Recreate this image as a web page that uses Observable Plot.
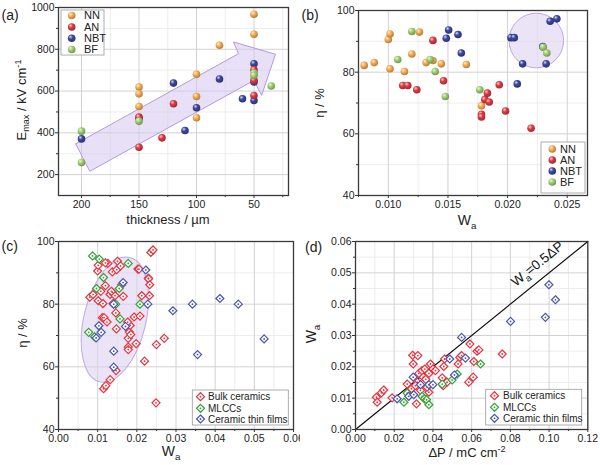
<!DOCTYPE html>
<html><head><meta charset="utf-8">
<script src="https://cdn.jsdelivr.net/npm/d3@7"></script>
<script src="https://cdn.jsdelivr.net/npm/@observablehq/plot@0.6"></script>
<style>
html,body{margin:0;padding:0;background:#fff;}
#root{position:relative;width:600px;height:465px;overflow:hidden;background:#fff;font-family:"Liberation Sans",Arial,sans-serif;}
#root svg.panel{position:absolute;}
</style></head>
<body><div id="root"></div>
<script>
// ---------------- DATA ----------------
// (a) thickness (µm) vs Emax (kV/cm)
const a_NN  = [[150,619],[150,587],[150,526],[100,680],[100,574],[100,472],[80,819],[50,968],[50,872]];
const a_AN  = [[150,475],[150,331],[130,376],[120,539],[50,702],[50,651],[50,579]];
const a_NBT = [[200,371],[150,470],[120,638],[110,411],[100,520],[80,658],[60,563],[50,731],[50,643],[50,555]];
const a_BF  = [[200,408],[200,258],[150,456],[50,686],[50,675],[35,624]];
const a_arrow = [[205,347],[63.5,779],[67.8,835],[31.3,776],[43.4,579],[50,651],[192.8,216],[205,347]];
const a_xTicks = [200,150,100,50], a_xMinor = [175,125,75,25];
const a_yTicks = [200,400,600,800,1000], a_yMinor = [300,500,700,900];

// (b) Wa vs eta (%)
const b_NN  = [[0.00798,82.2],[0.00882,83.1],[0.0100,90.6],[0.01014,92.4],[0.01014,81.1],[0.01135,80.2],[0.01197,85.9],[0.01261,93.0],[0.01317,83.1],[0.01374,83.8],[0.01444,82.7],[0.01654,82.5],[0.01781,69.1]];
const b_AN  = [[0.01121,75.7],[0.01163,75.7],[0.01239,74.3],[0.01374,90.3],[0.01463,77.2],[0.01781,66.3],[0.01781,65.5],[0.01809,71.1],[0.01831,73.2],[0.01846,70.3],[0.0193,75.9],[0.01983,67.4],[0.02197,61.8]];
const b_NBT = [[0.01486,91.0],[0.01506,93.7],[0.01584,92.2],[0.01612,86.2],[0.02028,91.2],[0.02056,91.2],[0.02126,82.7],[0.02081,76.2],[0.02323,82.7],[0.02357,96.5],[0.02413,97.3],[0.02295,88.3]];
const b_BF  = [[0.01197,93.2],[0.01079,84.1],[0.01351,84.1],[0.01393,80.2],[0.01478,72.1],[0.01767,74.3],[0.02299,88.1],[0.02329,86.2]];
const b_circle = [0.02245, 90.1];
const b_xTicks = [0.010,0.015,0.020,0.025], b_xMinor = [0.0075,0.0125,0.0175,0.0225];
const b_yTicks = [40,60,80,100], b_yMinor = [50,70,90];

// (c) Wa vs eta: bulk ceramics = all of (b) plus extra points
const c_bulkExtra = [[0.0115,53.0],[0.0121,54.0],[0.0132,55.9],[0.0147,58.8],[0.0249,48.5],[0.0270,69.1],[0.0250,67.1]];
const c_MLCC = [[0.0087,95.4],[0.0104,94.4],[0.0115,88.5],[0.0097,85.0],[0.0155,85.0],[0.0146,80.0],[0.0178,93.0],[0.0208,80.0],[0.0157,75.3],[0.0077,71.0],[0.0092,69.6]];
const c_film = [[0.0096,69.2],[0.0103,73.1],[0.0109,71.0],[0.0141,80.0],[0.0141,65.0],[0.0141,59.9],[0.0165,86.9],[0.0171,72.9],[0.0223,90.9],[0.0228,80.0],[0.0292,77.9],[0.0342,80.0],[0.0355,63.9],[0.0412,81.8],[0.0459,80.0],[0.0525,68.9]];
const c_ellipse = [0.01452, 74.9];
const c_xTicks = [0,0.01,0.02,0.03,0.04,0.05,0.06], c_xMinor = [0.005,0.015,0.025,0.035,0.045,0.055];
const c_yTicks = [40,60,80,100], c_yMinor = [50,70,90];

// (d) dP (mC/cm2) vs Wa
const d_bulk = [[0.0108,0.0103],[0.0112,0.0087],[0.0134,0.0117],[0.0146,0.0126],[0.0189,0.0101],[0.0267,0.0145],[0.0289,0.0130],[0.0295,0.0237],[0.0322,0.0236],[0.0298,0.0209],[0.0315,0.0082],[0.0319,0.0151],[0.0310,0.0140],[0.0327,0.0179],[0.0344,0.0188],[0.0358,0.0193],[0.0350,0.0167],[0.0336,0.0125],[0.0363,0.0160],[0.0379,0.0179],[0.0387,0.0209],[0.0400,0.0193],[0.0413,0.0188],[0.0379,0.0119],[0.0370,0.0135],[0.0448,0.0165],[0.0453,0.0140],[0.0456,0.0201],[0.0460,0.0225],[0.0473,0.0151],[0.0530,0.0209],[0.0539,0.0230],[0.0548,0.0236],[0.0591,0.0273],[0.0585,0.0151],[0.0608,0.0167],[0.0611,0.0217],[0.0628,0.0250],[0.0637,0.0254],[0.0758,0.0241]];
const d_MLCC = [[0.0250,0.0087],[0.0267,0.0116],[0.0344,0.0106],[0.0356,0.0098],[0.0367,0.0095],[0.0379,0.0079],[0.0448,0.0145],[0.0499,0.0158],[0.0525,0.0177],[0.0646,0.0209]];
const d_film = [[0.0215,0.0098],[0.0298,0.0167],[0.0275,0.0106],[0.0301,0.0111],[0.0336,0.0143],[0.0379,0.0143],[0.0400,0.0143],[0.0487,0.0225],[0.0511,0.0174],[0.0548,0.0294],[0.0568,0.0228],[0.0801,0.0345],[0.0981,0.0358],[0.0999,0.0462],[0.1033,0.0414]];
const d_refLine = [0, 0.12];   // Wa = 0.5 * dP
const d_refLabelAt = [0.0956, 0.0516];
const d_xTicks = [0,0.02,0.04,0.06,0.08,0.10,0.12], d_xMinor = [0.01,0.03,0.05,0.07,0.09,0.11];
const d_yTicks = [0,0.01,0.02,0.03,0.04,0.05,0.06], d_yMinor = [0.005,0.015,0.025,0.035,0.045,0.055];

const sphereColors = {NN:"#f7ad52", AN:"#e03a42", NBT:"#3b479f", BF:"#9fcf70"};
const diamondColors = {bulk:"#e5323e", mlcc:"#2fa234", film:"#4a53b0"};

// ---------------- HELPERS ----------------
const FONT = "'Liberation Sans', Arial, Helvetica, sans-serif";
const root = document.getElementById("root");
const NS = "http://www.w3.org/2000/svg";

// sphere gradients
const defsSvg = d3.select(root).append("svg").attr("width",1).attr("height",1).style("position","absolute").style("left","-10px");
const defs = defsSvg.append("defs");
for (const [k, base] of Object.entries(sphereColors)) {
  const g = defs.append("radialGradient").attr("id","sph-"+k).attr("cx","40%").attr("cy","38%").attr("r","62%").attr("fx","34%").attr("fy","30%");
  g.append("stop").attr("offset","0%").attr("stop-color", d3.interpolateRgb(base,"#ffffff")(0.8));
  g.append("stop").attr("offset","45%").attr("stop-color", base);
  g.append("stop").attr("offset","100%").attr("stop-color", d3.color(base).darker(0.9).formatHex());
}

const X = d => d[0], Y = d => d[1];

function gridMarks(xMaj, xMin, yMaj, yMin) {
  return [
    Plot.gridX(xMin, {stroke:"#e9e9e9", strokeOpacity:1, strokeWidth:0.8}),
    Plot.gridY(yMin, {stroke:"#e9e9e9", strokeOpacity:1, strokeWidth:0.8}),
    Plot.gridX(xMaj, {stroke:"#d2d2d2", strokeOpacity:1, strokeWidth:1}),
    Plot.gridY(yMaj, {stroke:"#d2d2d2", strokeOpacity:1, strokeWidth:1})
  ];
}
function axisMarks(xMaj, xMin, yMaj, yMin, xFmt, yFmt) {
  return [
    Plot.axisX(xMaj, {anchor:"bottom", tickSize:3, tickPadding:2, tickFormat:xFmt, label:null, stroke:"#333", fill:"#222"}),
    Plot.axisX(xMin, {anchor:"bottom", tickSize:2, tickFormat:() => "", label:null, stroke:"#333"}),
    Plot.axisY(yMaj, {anchor:"left", tickSize:3, tickPadding:1, tickFormat:yFmt, label:null, stroke:"#333", fill:"#222"}),
    Plot.axisY(yMin, {anchor:"left", tickSize:2, tickFormat:() => "", label:null, stroke:"#333"}),
    Plot.frame({stroke:"#3a3a3a", strokeWidth:1.3})
  ];
}
function ellipseMark(center, rx, ry, angle) {
  return (index, scales) => {
    const g = document.createElementNS(NS, "g");
    const e = document.createElementNS(NS, "ellipse");
    const cx = scales.x(center[0]), cy = scales.y(center[1]);
    e.setAttribute("transform", `translate(${cx},${cy}) rotate(${angle})`);
    e.setAttribute("rx", rx); e.setAttribute("ry", ry);
    e.setAttribute("fill", "#ddd1f0"); e.setAttribute("fill-opacity", "0.6");
    e.setAttribute("stroke", "#bfa8e2"); e.setAttribute("stroke-width", "1");
    g.appendChild(e);
    return g;
  };
}
function richParts(t, parts, size) {
  let cur = 0;
  for (const p of parts) {
    const [s, k] = Array.isArray(p) ? p : [p, null];
    const target = k === "sub" ? 0.3*size : k === "sup" ? -0.36*size : 0;
    const ts = t.append("tspan").text(s);
    if (target !== cur) ts.attr("dy", target - cur);
    if (k) ts.attr("font-size", size*0.7);
    cur = target;
  }
}
function rich(svg, x, y, parts, {size=13, anchor="middle", rotate=0} = {}) {
  const t = d3.select(svg).append("text")
    .attr("transform", `translate(${x},${y})` + (rotate ? ` rotate(${rotate})` : ""))
    .attr("text-anchor", anchor).attr("font-size", size).attr("fill", "#222").attr("font-family", FONT);
  richParts(t, parts, size);
  return t;
}
function richTextMark(at, parts, size, angle) {
  return (index, scales) => {
    const t = d3.create("svg:text")
      .attr("transform", `translate(${scales.x(at[0])},${scales.y(at[1])}) rotate(${angle})`)
      .attr("text-anchor","middle").attr("font-size", size).attr("fill","#111").attr("font-family", FONT);
    richParts(t, parts, size);
    return t.node();
  };
}
function legend(svg, box, items, rows, symX, textX, kind, fs) {
  const g = d3.select(svg).append("g").attr("text-anchor","start");
  g.append("rect").attr("x",box[0]).attr("y",box[1]).attr("width",box[2]-box[0]).attr("height",box[3]-box[1])
    .attr("fill","#fff").attr("stroke","#9a9a9a").attr("stroke-width",0.8);
  items.forEach((it, i) => {
    const y = rows[i];
    if (kind === "sphere") {
      g.append("circle").attr("cx",symX).attr("cy",y).attr("r",3.8).attr("fill",`url(#sph-${it.key})`);
    } else {
      g.append("path").attr("transform",`translate(${symX},${y})`)
        .attr("d", d3.symbol(d3.symbolDiamond2, Math.PI*3.6*3.6)())
        .attr("fill","#fff").attr("stroke", it.color).attr("stroke-width",1.2);
      g.append("circle").attr("cx",symX).attr("cy",y).attr("r",0.9).attr("fill",it.color);
    }
    g.append("text").attr("x",textX).attr("y",y).attr("dy","0.35em").attr("font-size",fs)
      .attr("text-anchor","start").attr("fill","#222").attr("font-family",FONT).text(it.label);
  });
}
function spheres(data, key) {
  return Plot.dot(data, {x:X, y:Y, r:3.8, fill:`url(#sph-${key})`, stroke:"none"});
}
function diamonds(data, color) {
  return [
    Plot.dot(data, {x:X, y:Y, r:3.6, symbol:"diamond2", fill:"#fff", stroke:color, strokeWidth:1.2}),
    Plot.dot(data, {x:X, y:Y, r:0.9, fill:color, stroke:"none"})
  ];
}
function place(svg, left, top) {
  svg.classList.add("panel");
  svg.style.position = "absolute";
  svg.style.left = left + "px";
  svg.style.top = top + "px";
  root.appendChild(svg);
  return svg;
}
const style = {fontFamily: FONT, fontSize: "10.5px", color: "#222", background: "transparent"};

// ---------------- PANEL (a) ----------------
const svgA = place(Plot.plot({
  width:300, height:230, marginLeft:58, marginRight:12, marginTop:7, marginBottom:35,
  x:{domain:[220,20]}, y:{domain:[100,1000]}, style,
  marks:[
    ...gridMarks(a_xTicks, a_xMinor, a_yTicks, a_yMinor),
    Plot.line(a_arrow, {x:X, y:Y, fill:"#d6c6ef", fillOpacity:0.55, stroke:"#b49ad9", strokeWidth:1, curve:"linear"}),
    spheres(a_NN,"NN"), spheres(a_NBT,"NBT"), spheres(a_AN,"AN"), spheres(a_BF,"BF"),
    ...axisMarks(a_xTicks, a_xMinor, a_yTicks, a_yMinor, d3.format("d"), d3.format("d"))
  ]
}), 0, 0);
rich(svgA, 25.5, 100, ["E", ["max","sub"], " / kV cm", ["-1","sup"]], {rotate:-90});
rich(svgA, 168, 224, ["thickness / µm"]);
rich(svgA, 1.5, 19.5, ["(a)"], {size:14, anchor:"start"});
legend(svgA, [61,10,104,55], [{key:"NN",label:"NN"},{key:"AN",label:"AN"},{key:"NBT",label:"NBT"},{key:"BF",label:"BF"}],
  [15.5,27,38.3,49.5], 71.7, 84, "sphere", 11);

// ---------------- PANEL (b) ----------------
const svgB = place(Plot.plot({
  width:300, height:230, marginLeft:58, marginRight:13, marginTop:10, marginBottom:35,
  x:{domain:[0.0075,0.0267]}, y:{domain:[40,100]}, style,
  marks:[
    ...gridMarks(b_xTicks, b_xMinor, b_yTicks, b_yMinor),
    ellipseMark(b_circle, 27.3, 27.3, 0),
    spheres(b_NN,"NN"), spheres(b_AN,"AN"), spheres(b_NBT,"NBT"), spheres(b_BF,"BF"),
    ...axisMarks(b_xTicks, b_xMinor, b_yTicks, b_yMinor, d3.format(".3f"), d3.format("d"))
  ]
}), 300, 0);
rich(svgB, 24, 103, ["η / %"], {rotate:-90});
rich(svgB, 167, 225, ["W", ["a","sub"]], {size:14});
rich(svgB, 1.5, 19.5, ["(b)"], {size:14, anchor:"start"});
legend(svgB, [241,142,285,193], [{key:"NN",label:"NN"},{key:"AN",label:"AN"},{key:"NBT",label:"NBT"},{key:"BF",label:"BF"}],
  [149,160,171,182], 252.3, 260, "sphere", 11);

// ---------------- PANEL (c) ----------------
const c_bulk = [...b_NN, ...b_AN, ...b_NBT, ...b_BF, ...c_bulkExtra];
const svgC = place(Plot.plot({
  width:300, height:235, marginLeft:58, marginRight:7, marginTop:11, marginBottom:36,
  x:{domain:[0,0.06]}, y:{domain:[40,100]}, style,
  marks:[
    ...gridMarks(c_xTicks, c_xMinor, c_yTicks, c_yMinor),
    ellipseMark(c_ellipse, 31, 64, 13.5),
    ...diamonds(c_bulk, diamondColors.bulk),
    ...diamonds(c_MLCC, diamondColors.mlcc),
    ...diamonds(c_film, diamondColors.film),
    ...axisMarks(c_xTicks, c_xMinor, c_yTicks, c_yMinor, d3.format(".2f"), d3.format("d"))
  ]
}), 0, 230);
rich(svgC, 27, 103, ["η / %"], {rotate:-90});
rich(svgC, 171, 226, ["W", ["a","sub"]], {size:14});
rich(svgC, 1.5, 21, ["(c)"], {size:14, anchor:"start"});
legend(svgC, [192.3,160,288.3,195], [{label:"Bulk ceramics",color:diamondColors.bulk},{label:"MLCCs",color:diamondColors.mlcc},{label:"Ceramic thin films",color:diamondColors.film}],
  [166.7,178.3,189], 200.5, 208, "diamond", 10);

// ---------------- PANEL (d) ----------------
const svgD = place(Plot.plot({
  width:300, height:235, marginLeft:55, marginRight:12.7, marginTop:11, marginBottom:36,
  x:{domain:[0,0.12]}, y:{domain:[0,0.06]}, style,
  marks:[
    ...gridMarks(d_xTicks, d_xMinor, d_yTicks, d_yMinor),
    Plot.line(d_refLine, {x:d => d, y:d => 0.5*d, stroke:"#111", strokeWidth:1.2}),
    richTextMark(d_refLabelAt, ["W", ["a","sub"], "=0.5ΔP"], 13.5, -39),
    ...diamonds(d_bulk, diamondColors.bulk),
    ...diamonds(d_MLCC, diamondColors.mlcc),
    ...diamonds(d_film, diamondColors.film),
    ...axisMarks(d_xTicks, d_xMinor, d_yTicks, d_yMinor, d3.format(".2f"), d3.format(".2f"))
  ]
}), 300, 230);
rich(svgD, 15.5, 104, ["W", ["a","sub"]], {size:14, rotate:-90});
rich(svgD, 167, 226.5, ["ΔP / mC cm", ["-2","sup"]]);
rich(svgD, 5, 22, ["(d)"], {size:14, anchor:"start"});
legend(svgD, [185.7,159.3,281.7,195], [{label:"Bulk ceramics",color:diamondColors.bulk},{label:"MLCCs",color:diamondColors.mlcc},{label:"Ceramic thin films",color:diamondColors.film}],
  [165.7,177.3,188.3], 194.5, 203, "diamond", 10);
</script>
</body></html>
